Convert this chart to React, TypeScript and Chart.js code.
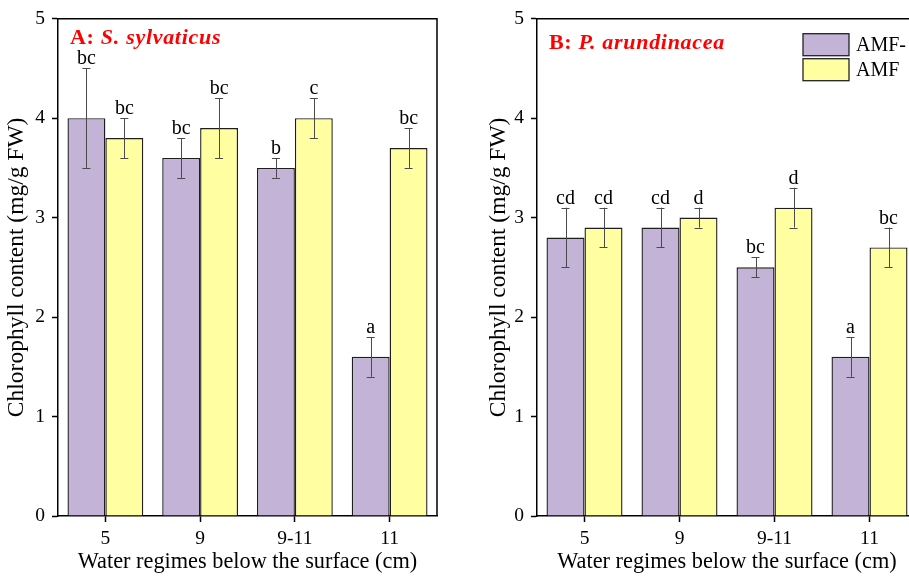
import React, { useEffect, useRef } from "react";
import { Chart, registerables } from "chart.js";

Chart.register(...registerables);

const categories = ["5", "9", "9-11", "11"];
const seriesNames = ["AMF-", "AMF"];

const aAmfMinus = [4.0, 3.6, 3.5, 1.6];
const aAmfMinusErr = [0.5, 0.2, 0.1, 0.2];
const aAmfMinusLetters = ["bc", "bc", "b", "a"];
const aAmf = [3.8, 3.9, 4.0, 3.7];
const aAmfErr = [0.2, 0.3, 0.2, 0.2];
const aAmfLetters = ["bc", "bc", "c", "bc"];

const bAmfMinus = [2.8, 2.9, 2.5, 1.6];
const bAmfMinusErr = [0.3, 0.2, 0.1, 0.2];
const bAmfMinusLetters = ["cd", "cd", "bc", "a"];
const bAmf = [2.9, 3.0, 3.1, 2.7];
const bAmfErr = [0.2, 0.1, 0.2, 0.2];
const bAmfLetters = ["cd", "d", "d", "bc"];

const yTicks = [0, 1, 2, 3, 4, 5];

const SERIF = "'Liberation Serif', 'Times New Roman', serif";
const PURPLE = "#C3B3D7";
const YELLOW = "#FFFFA2";

type PanelCfg = {
  prefix: string;
  species: string;
  minus: number[];
  minusErr: number[];
  minusLetters: string[];
  plus: number[];
  plusErr: number[];
  plusLetters: string[];
  yAxisWidth: number;
  yTitlePad: number;
  titleY: number;
  legend: boolean;
};

function makeChart(canvas: HTMLCanvasElement, cfg: PanelCfg) {
  const errs = [cfg.minusErr, cfg.plusErr];
  const letters = [cfg.minusLetters, cfg.plusLetters];

  const overlay = {
    id: "overlay",
    afterDatasetsDraw(chart: any) {
      const ctx = chart.ctx;
      const y = chart.scales.y;
      const area = chart.chartArea;
      ctx.save();
      // error bars + letters
      chart.data.datasets.forEach((ds: any, di: number) => {
        const meta = chart.getDatasetMeta(di);
        meta.data.forEach((bar: any, i: number) => {
          const v = ds.data[i];
          const e = errs[di][i];
          const x = bar.x;
          const yHi = y.getPixelForValue(v + e);
          const yLo = y.getPixelForValue(v - e);
          ctx.strokeStyle = "#4a4a4a";
          ctx.lineWidth = 1;
          ctx.beginPath();
          ctx.moveTo(Math.round(x) + 0.5, yHi);
          ctx.lineTo(Math.round(x) + 0.5, yLo);
          ctx.moveTo(x - 4, Math.round(yHi) + 0.5);
          ctx.lineTo(x + 4, Math.round(yHi) + 0.5);
          ctx.moveTo(x - 4, Math.round(yLo) + 0.5);
          ctx.lineTo(x + 4, Math.round(yLo) + 0.5);
          ctx.stroke();
          ctx.fillStyle = "#000";
          ctx.font = `20px ${SERIF}`;
          ctx.textAlign = "center";
          ctx.textBaseline = "alphabetic";
          ctx.fillText(letters[di][i], x, yHi - 4);
        });
      });
      // frame top & right
      ctx.strokeStyle = "#000";
      ctx.lineWidth = 1.5;
      ctx.beginPath();
      ctx.moveTo(area.left, area.top);
      ctx.lineTo(area.right, area.top);
      ctx.lineTo(area.right, area.bottom);
      ctx.stroke();
      // panel title
      ctx.fillStyle = "#FF0000";
      ctx.textAlign = "left";
      ctx.textBaseline = "alphabetic";
      (ctx as any).letterSpacing = "0.7px";
      ctx.font = `bold 22px ${SERIF}`;
      const tx = area.left + 12;
      ctx.fillText(cfg.prefix, tx, cfg.titleY);
      const w = ctx.measureText(cfg.prefix).width;
      ctx.font = `italic bold 22px ${SERIF}`;
      ctx.fillText(cfg.species, tx + w, cfg.titleY);
      (ctx as any).letterSpacing = "0px";
      // legend
      if (cfg.legend) {
        const lx = area.left + 266;
        const boxes = [30, 55];
        chart.data.datasets.forEach((ds: any, di: number) => {
          const by = area.top + boxes[di];
          ctx.fillStyle = ds.backgroundColor;
          ctx.fillRect(lx, by - 15, 46, 22);
          ctx.strokeStyle = "#222";
          ctx.lineWidth = 1.3;
          ctx.strokeRect(lx, by - 15, 46, 22);
          ctx.fillStyle = "#000";
          ctx.font = `20px ${SERIF}`;
          ctx.textBaseline = "middle";
          ctx.fillText(ds.label, lx + 53, by - 3);
        });
      }
      ctx.restore();
    },
  };

  return new Chart(canvas, {
    type: "bar",
    data: {
      labels: categories,
      datasets: [
        {
          label: seriesNames[0],
          data: cfg.minus,
          backgroundColor: PURPLE,
          borderColor: "#1e1e1e",
          borderWidth: 1.4,
          categoryPercentage: 0.8,
          barPercentage: 1.0,
        },
        {
          label: seriesNames[1],
          data: cfg.plus,
          backgroundColor: YELLOW,
          borderColor: "#1e1e1e",
          borderWidth: 1.4,
          categoryPercentage: 0.8,
          barPercentage: 1.0,
        },
      ],
    },
    options: {
      responsive: false,
      animation: false,
      devicePixelRatio: 1,
      layout: { padding: { top: 15, right: 23, left: 0, bottom: 0 } },
      plugins: {
        legend: { display: false },
        tooltip: { enabled: false },
        title: { display: false },
      },
      scales: {
        x: {
          offset: true,
          grid: {
            offset: false,
            drawOnChartArea: false,
            drawTicks: true,
            tickLength: 6,
            tickColor: "#000",
            tickWidth: 1.5,
          },
          border: { display: true, color: "#000", width: 1.5 },
          ticks: {
            color: "#000",
            font: { family: SERIF, size: 19.5 },
            padding: 5,
            maxRotation: 0,
          },
          title: {
            display: true,
            text: "Water regimes below the surface (cm)",
            color: "#000",
            font: { family: SERIF, size: 22.3 },
            padding: { top: 0, bottom: 1 },
          },
          afterFit: (s: any) => {
            s.height = 61;
          },
        },
        y: {
          min: 0,
          max: 5,
          afterBuildTicks: (s: any) => {
            s.ticks = yTicks.map((v) => ({ value: v }));
          },
          grid: {
            drawOnChartArea: false,
            drawTicks: true,
            tickLength: 6,
            tickColor: "#000",
            tickWidth: 1.5,
          },
          border: { display: true, color: "#000", width: 1.5 },
          ticks: {
            color: "#000",
            font: { family: SERIF, size: 19.5 },
            padding: 7,
          },
          title: {
            display: true,
            text: "Chlorophyll content (mg/g FW)",
            color: "#000",
            font: { family: SERIF, size: 23.5 },
            padding: { top: cfg.yTitlePad, bottom: 0 },
          },
          afterFit: (s: any) => {
            s.width = cfg.yAxisWidth;
          },
        },
      },
    },
    plugins: [overlay],
  } as any);
}

export default function App() {
  const leftRef = useRef<HTMLCanvasElement>(null);
  const rightRef = useRef<HTMLCanvasElement>(null);

  useEffect(() => {
    const c1 = makeChart(leftRef.current!, {
      prefix: "A: ",
      species: "S. sylvaticus",
      minus: aAmfMinus,
      minusErr: aAmfMinusErr,
      minusLetters: aAmfMinusLetters,
      plus: aAmf,
      plusErr: aAmfErr,
      plusLetters: aAmfLetters,
      yAxisWidth: 58,
      yTitlePad: 3,
      titleY: 44,
      legend: false,
    });
    const c2 = makeChart(rightRef.current!, {
      prefix: "B: ",
      species: "P. arundinacea",
      minus: bAmfMinus,
      minusErr: bAmfMinusErr,
      minusLetters: bAmfMinusLetters,
      plus: bAmf,
      plusErr: bAmfErr,
      plusLetters: bAmfLetters,
      yAxisWidth: 77,
      yTitlePad: 25,
      titleY: 49,
      legend: true,
    });
    return () => {
      c1.destroy();
      c2.destroy();
    };
  }, []);

  return (
    <div
      style={{
        position: "fixed",
        left: 0,
        top: 0,
        width: 909,
        height: 577,
        overflow: "hidden",
        background: "#fff",
      }}
    >
      <canvas
        ref={leftRef}
        width={460}
        height={577}
        style={{ position: "absolute", left: 0, top: 0 }}
      />
      <canvas
        ref={rightRef}
        width={480}
        height={577}
        style={{ position: "absolute", left: 460, top: 0 }}
      />
    </div>
  );
}
